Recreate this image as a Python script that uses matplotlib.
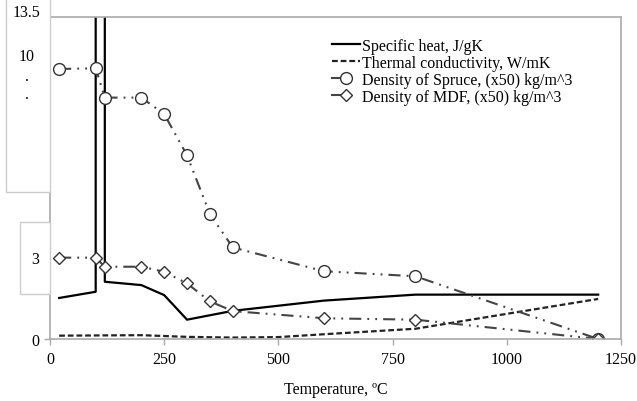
import matplotlib
matplotlib.use("Agg")
import matplotlib.pyplot as plt
from matplotlib.patches import Rectangle
from matplotlib.lines import Line2D
from matplotlib.legend_handler import HandlerLine2D
import numpy as np

# data
temp_cp = [20, 100, 100, 120, 120, 200, 250, 300, 400, 600, 800, 1200]
specific_heat = [1.72, 1.98, 60, 60, 2.40, 2.26, 1.84, 0.81, 1.18, 1.61, 1.86, 1.86]

temp_k = [20, 200, 300, 400, 500, 600, 800, 1200]
conductivity = [0.14, 0.16, 0.09, 0.06, 0.08, 0.2, 0.43, 1.68]

temp_rho = [20, 100, 120, 200, 250, 300, 350, 400, 600, 800, 1200]
rho_spruce = [11.32, 11.35, 10.12, 10.12, 9.43, 7.70, 5.24, 3.84, 2.84, 2.63, 0.0]
rho_mdf = [3.41, 3.41, 3.03, 3.03, 2.82, 2.33, 1.58, 1.17, 0.87, 0.81, 0.0]

W, H = 637, 402
plt.rcParams['font.family'] = ['Liberation Serif', 'DejaVu Serif']
plt.rcParams['font.size'] = 11.5

fig = plt.figure(figsize=(W / 100, H / 100), dpi=100)


def fx(x, y):
    return x / W, 1 - y / H


ax = fig.add_axes([50 / W, 1 - 340 / H, (621 - 50) / W, (340 - 18) / H])

ax.plot(temp_cp, specific_heat, color='black', lw=1.6, label='Specific heat, J/gK')
ax.plot(temp_k, conductivity, color='#222222', lw=1.6, dashes=(2.6, 1.3),
        label='Thermal conductivity, W/mK')
dd = (5.8, 2.9, 0.9, 2.9, 0.9, 2.9)
ax.plot(temp_rho, rho_spruce, color='#444444', lw=1.5, dashes=dd, marker='o', ms=8.5,
        mfc='white', mec='#333333', mew=1.0, label='Density of Spruce, (x50) kg/m^3')
ax.plot(temp_rho, rho_mdf, color='#444444', lw=1.5, dashes=dd, marker='D', ms=6.5,
        mfc='white', mec='#333333', mew=1.0, label='Density of MDF, (x50) kg/m^3')

ax.set_xlim(0, 1250)
ax.set_ylim(0, 13.5)
ax.set_xticks(np.arange(0, 1251, 250))
ax.set_yticks(np.arange(0, 13.6, 2.25))
ax.set_yticklabels(['0'] + [''] * 6)
for s in ax.spines.values():
    s.set_color('#aaaaaa')
    s.set_linewidth(1.2)
ax.tick_params(direction='out', length=4, color='#aaaaaa', width=1)
ax.tick_params(axis='x', pad=5)
ax.set_xlabel('Temperature, ºC', labelpad=10)


class LeftLine(HandlerLine2D):
    # marker in the middle, short solid line only on its left
    def create_artists(self, legend, orig_handle, xdescent, ydescent, width, height,
                       fontsize, trans):
        arts = super().create_artists(legend, orig_handle, xdescent, ydescent, width,
                                      height, fontsize, trans)
        for a in arts:
            if a.get_marker() not in (None, 'None', ''):
                xs, ys = a.get_xdata(), a.get_ydata()
                a.set_data([xs[0], xs[1]], [ys[0], ys[1]])
                a.set_markevery([1])
                a.set_linestyle('-')
        return arts


leg = ax.legend(loc='upper left', bbox_to_anchor=fx(332, 39), bbox_transform=fig.transFigure,
                frameon=False, borderpad=0, borderaxespad=0, handlelength=1.75,
                handletextpad=0.1, labelspacing=0.06, fontsize=11.5,
                handler_map={Line2D: LeftLine(numpoints=1)})

# label boxes on the left
x0, y0 = fx(6, 193)
fig.add_artist(Rectangle((x0, y0), 44 / W, 193 / H + 0.01, transform=fig.transFigure,
                         facecolor='white', edgecolor='#cccccc', lw=1))
x0, y0 = fx(20, 295)
fig.add_artist(Rectangle((x0, y0), 30 / W, 72 / H, transform=fig.transFigure,
                         facecolor='white', edgecolor='#cccccc', lw=1))
for txt, px, py in [('13.5', 27, 13), ('10', 27, 57), ('.', 27, 77), ('.', 27, 95), ('3', 35, 260)]:
    fig.text(*fx(px, py), txt, ha='center', va='center', fontsize=11.5)

fig.savefig('out.png', dpi=100)
